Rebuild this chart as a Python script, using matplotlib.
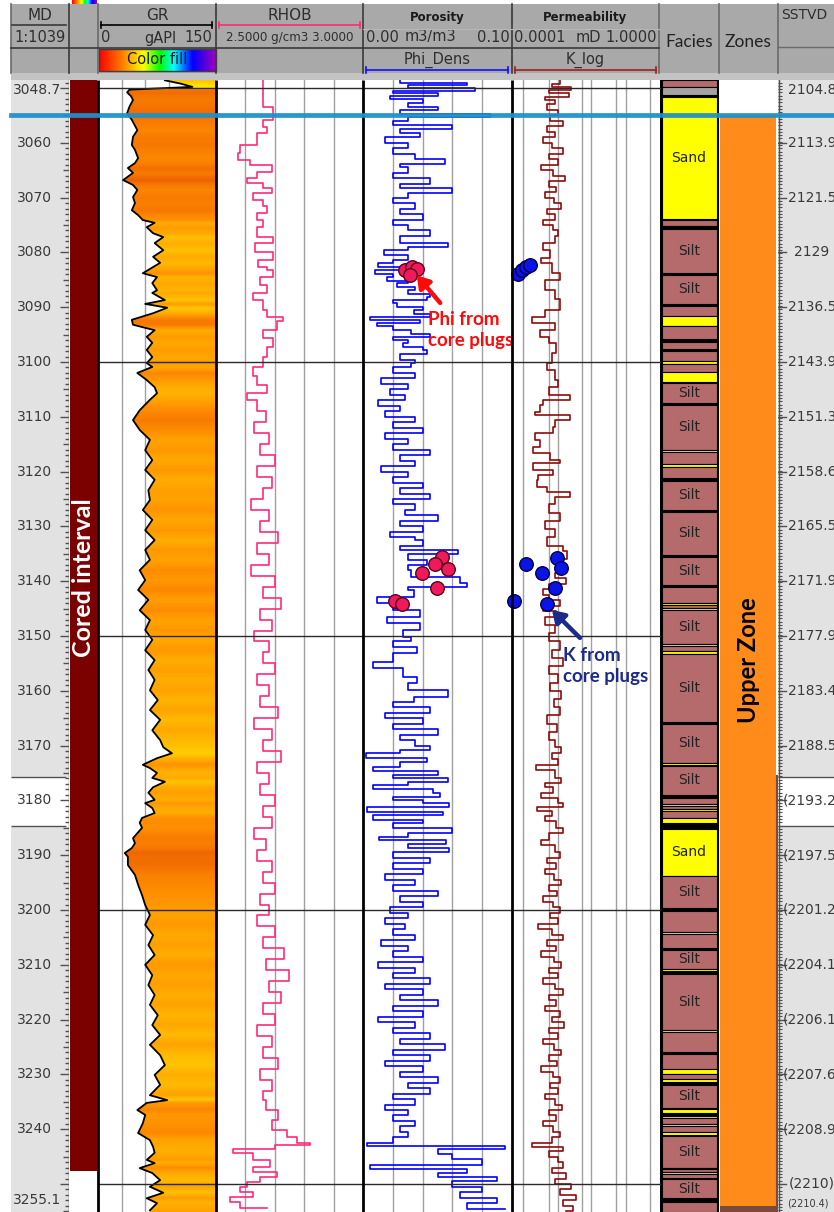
import numpy as np
import matplotlib
matplotlib.use('Agg')
import matplotlib.pyplot as plt
from matplotlib.patches import Rectangle, Polygon
from matplotlib.colors import LinearSegmentedColormap

# ---------------- data ----------------
TOP_DEPTH, BASE_DEPTH = 3048.54, 3255.11
MD_TOP_LABEL, MD_BASE_LABEL = "3048.7", "3255.1"
MD_LABELS = list(range(3060, 3241, 10))
TVD_DEPTHS = list(range(3060, 3251, 10))
TVD_LABELS = ["2113.9", "2121.5", "2129", "2136.5", "2143.9", "2151.3", "2158.6", "2165.5",
              "2171.9", "2177.9", "2183.4", "2188.5", "(2193.2)", "(2197.5)", "(2201.2)",
              "(2204.1)", "(2206.1)", "(2207.6)", "(2208.9)", "(2210)"]
TVD_TOP_LABEL, TVD_BASE_LABEL = "2104.8", "(2210.4)"

GR_DEPTH = [3048.6, 3049.2, 3049.8, 3050.3, 3050.8, 3051.5, 3052.2, 3053.4, 3054.6, 3055.8, 3057.7,
            3058.9, 3060.4, 3061.3, 3062.8, 3063.7, 3064.6, 3065.5, 3066.8, 3067.7, 3068.6, 3069.9,
            3071.0, 3072.3, 3073.2, 3074.1, 3074.6, 3075.4, 3076.5, 3077.2, 3078.3, 3079.6, 3080.8,
            3081.9, 3083.8, 3084.5, 3085.6, 3086.9, 3087.4, 3088.7, 3089.4, 3090.1, 3091.1, 3092.3,
            3093.2, 3094.2, 3095.4, 3096.5, 3097.8, 3099.1, 3100.2, 3100.9, 3102.0, 3103.3, 3104.6,
            3105.7, 3106.9, 3108.8, 3110.6, 3112.4, 3114.2, 3116.1, 3117.9, 3119.7, 3121.5, 3123.4,
            3125.2, 3127.0, 3128.8, 3130.7, 3132.5, 3134.3, 3136.1, 3138.0, 3139.8, 3141.6, 3143.4,
            3145.3, 3147.1, 3148.9, 3150.7, 3152.6, 3154.4, 3156.2, 3158.0, 3159.9, 3161.7, 3163.5,
            3165.3, 3167.2, 3169.0, 3170.3, 3171.4, 3172.3, 3173.5, 3174.1, 3175.0, 3175.9, 3176.6,
            3177.6, 3178.6, 3179.9, 3180.5, 3181.4, 3182.3, 3183.2, 3184.1, 3185.0, 3186.0, 3186.9,
            3187.8, 3188.7, 3189.6, 3190.3, 3191.8, 3193.6, 3195.4, 3197.3, 3199.1, 3200.9, 3202.7,
            3204.6, 3206.4, 3208.2, 3210.0, 3211.9, 3213.7, 3215.5, 3217.3, 3219.2, 3221.0, 3222.8,
            3224.6, 3226.5, 3228.3, 3230.1, 3231.9, 3233.8, 3234.7, 3235.2, 3236.5, 3237.4, 3238.9,
            3240.7, 3242.0, 3243.2, 3244.3, 3245.6, 3246.2, 3247.1, 3248.0, 3249.3, 3250.5, 3251.6,
            3252.6, 3253.5, 3254.8]
GR_VAL = [85, 105, 120, 40, 37, 42, 44.5, 40, 37, 43, 50,
          44.5, 43, 47, 51, 47, 38, 44.5, 32, 44.5, 50, 44.5,
          47, 43, 51, 57, 72, 62, 70, 83, 72, 83, 70,
          79, 57, 75, 69, 75, 69, 85, 60, 88, 70, 43,
          44.5, 72, 62, 69, 62, 69, 62, 69, 50, 62, 72,
          75, 66, 53, 44.5, 53, 66, 60, 69, 60, 72, 64,
          66, 57, 69, 60, 72, 60, 66, 53, 60, 51, 64,
          53, 66, 60, 69, 60, 72, 64, 72, 66, 76, 66,
          79, 69, 79, 83, 94, 75, 57, 66, 75, 69, 85,
          70, 64, 72, 60, 69, 72, 56, 53, 56, 50, 44.5,
          47, 43, 34, 38, 38, 47, 51, 56, 60, 66, 60,
          70, 64, 72, 60, 69, 64, 72, 66, 76, 69, 79,
          66, 79, 85, 72, 79, 66, 88, 62, 50, 60, 57,
          51, 66, 70, 72, 62, 72, 53, 69, 79, 66, 83,
          62, 75, 66]

RHOB_DEPTH = [3048.6, 3052.2, 3053.4, 3055.8, 3057.1, 3058.3, 3060.4, 3061.9, 3063.1, 3064.0, 3065.3,
              3066.4, 3067.4, 3068.3, 3069.2, 3070.4, 3071.6, 3072.9, 3074.1, 3075.4, 3077.2, 3078.3,
              3079.9, 3081.4, 3082.6, 3083.2, 3084.5, 3086.0, 3087.4, 3088.7, 3090.5, 3091.7, 3092.6,
              3094.2, 3095.7, 3097.2, 3099.1, 3100.9, 3102.6, 3104.2, 3105.7,
              3107, 3109, 3111, 3113, 3115, 3117, 3119, 3121, 3123, 3125, 3127, 3129, 3131, 3133,
              3135, 3137, 3139, 3141, 3143, 3145, 3147, 3149, 3151, 3153, 3155, 3157, 3159, 3161,
              3163, 3165, 3167, 3169, 3171, 3173, 3175, 3177, 3179, 3181, 3183, 3185, 3187, 3189,
              3191, 3193, 3195, 3197, 3199, 3201, 3203, 3205, 3207, 3209, 3211, 3213, 3215, 3217,
              3219, 3221, 3223, 3225, 3227, 3229, 3231, 3233, 3234.7, 3236.5, 3238.3, 3240.1,
              3241.4, 3242.5, 3242.9, 3243.6, 3244.3, 3245.6, 3246.9, 3247.8, 3248.7, 3249.6,
              3250.5, 3251.5, 3252.4, 3253.3, 3254.4]
RHOB_VAL = [2.66, 2.66, 2.694, 2.66, 2.673, 2.64, 2.58, 2.575, 2.616, 2.69, 2.64,
            2.605, 2.66, 2.69, 2.627, 2.66, 2.673, 2.64, 2.66, 2.64, 2.694, 2.633,
            2.694, 2.643, 2.673, 2.694, 2.65, 2.673, 2.627, 2.66, 2.673, 2.728, 2.707,
            2.66, 2.694, 2.673, 2.66, 2.627, 2.64, 2.673, 2.605,
            2.64, 2.67, 2.63, 2.68, 2.65, 2.70, 2.64, 2.69, 2.66, 2.62, 2.68, 2.65, 2.71, 2.64,
            2.68, 2.62, 2.70, 2.66, 2.72, 2.65, 2.69, 2.63, 2.68, 2.66, 2.70, 2.64, 2.68, 2.65,
            2.71, 2.63, 2.69, 2.66, 2.72, 2.64, 2.68, 2.65, 2.70, 2.66, 2.69, 2.63, 2.67, 2.64,
            2.69, 2.66, 2.70, 2.65, 2.68, 2.64, 2.70, 2.66, 2.73, 2.67, 2.75, 2.68, 2.72, 2.66,
            2.70, 2.64, 2.69, 2.66, 2.71, 2.65, 2.69, 2.66, 2.67, 2.71, 2.69, 2.74,
            2.775, 2.82, 2.70, 2.558, 2.627, 2.683, 2.627, 2.707, 2.65, 2.605,
            2.58, 2.627, 2.548, 2.58, 2.673]

PHI_DEPTH = [3048.6, 3049.0, 3049.5, 3050.0, 3050.5, 3051.0, 3051.5, 3052.0, 3052.8, 3053.5, 3054.0,
             3054.8, 3055.3, 3056.0, 3056.8, 3057.5, 3058.3, 3059.0, 3060.0, 3061.0, 3062.0, 3063.0,
             3063.8, 3064.5, 3065.5, 3066.5, 3067.5, 3068.3, 3069.2, 3070.0, 3071.0, 3072.0, 3073.0,
             3074.0, 3075.0, 3076.0, 3077.0, 3078.3, 3079.0, 3079.6, 3080.5, 3081.3, 3081.9, 3082.6,
             3083.2, 3084.0, 3084.5, 3085.2, 3085.6, 3086.3, 3086.9, 3087.5, 3088.1, 3088.7, 3089.2,
             3090.0, 3090.5, 3091.2, 3091.8, 3092.4, 3092.9, 3093.5, 3094.2, 3094.8, 3095.4, 3096.0,
             3096.5, 3097.2, 3097.8, 3098.5, 3099.1, 3099.6, 3100.2, 3101, 3102, 3103, 3104, 3105,
             3106, 3107, 3108, 3109, 3110, 3111, 3112, 3113, 3114, 3115, 3116, 3117, 3118, 3119,
             3120, 3121, 3122, 3123, 3124, 3125, 3126, 3127, 3128, 3129, 3130, 3131, 3132, 3132.5,
             3133.5, 3134.3, 3135, 3136.1, 3137, 3138, 3139.2, 3140.3, 3141, 3141.6, 3142.9, 3144,
             3145.3, 3146.5, 3147.6, 3148.9, 3150.2, 3151, 3152, 3153.1, 3154.7, 3155.8, 3157.5,
             3158.6, 3159.9, 3161.1, 3162, 3163, 3164, 3165, 3166, 3167, 3168, 3169, 3170, 3170.8,
             3171.4, 3172.2, 3173, 3173.9, 3174.6, 3175.3, 3175.9, 3176.6, 3177.2, 3177.9, 3178.6,
             3179.3, 3180, 3180.5, 3181.2, 3182.1, 3182.7, 3183.5, 3184.2, 3185, 3186, 3186.7,
             3187.2, 3188, 3188.7, 3189.5, 3190.5, 3191.5, 3192.5, 3193.5, 3194.5, 3195.5, 3196.5,
             3197.5, 3198.5, 3199.5, 3200.5, 3201.5, 3202.5, 3203.5, 3204.5, 3205.5, 3206.5, 3207.5,
             3208.5, 3209.5, 3210.5, 3211.5, 3212.5, 3213.5, 3214.5, 3215.5, 3216.5, 3217.5, 3218.5,
             3219.5, 3220.5, 3221.5, 3222.5, 3223.5, 3224.5, 3225.5, 3226.5, 3227.5, 3228.5, 3229.5,
             3230.5, 3231.5, 3232.5, 3233.5, 3234.5, 3235.5, 3236.5, 3237.5, 3238.5, 3239.5, 3240.5,
             3241.5, 3242.5, 3243, 3243.6, 3244.5, 3245.5, 3246.5, 3247.2, 3248, 3248.8, 3249.5,
             3250.5, 3251.5, 3252.5, 3253.5, 3254.5]
PHI_VAL = [0.025, 0.07, 0.03, 0.075, 0.02, 0.05, 0.018, 0.04, 0.03, 0.05, 0.025,
           0.085, 0.03, 0.02, 0.06, 0.025, 0.038, 0.015, 0.03, 0.02, 0.035, 0.055,
           0.025, 0.03, 0.02, 0.045, 0.025, 0.06, 0.03, 0.02, 0.035, 0.025, 0.04,
           0.02, 0.03, 0.045, 0.025, 0.057, 0.03, 0.014, 0.03, 0.02, 0.01, 0.025,
           0.008, 0.02, 0.016, 0.03, 0.023, 0.035, 0.03, 0.045, 0.043, 0.02, 0.023,
           0.04, 0.034, 0.045, 0.005, 0.038, 0.0095, 0.02, 0.032, 0.045, 0.02, 0.03,
           0.027, 0.04, 0.043, 0.025, 0.025, 0.035, 0.032, 0.02, 0.035, 0.012, 0.03, 0.018,
           0.028, 0.01, 0.025, 0.015, 0.035, 0.02, 0.04, 0.015, 0.03, 0.02, 0.045, 0.025, 0.035, 0.012,
           0.03, 0.02, 0.04, 0.025, 0.045, 0.02, 0.035, 0.028, 0.05, 0.025, 0.04, 0.018, 0.035, 0.04,
           0.025, 0.064, 0.03, 0.043, 0.03, 0.032, 0.065, 0.07, 0.03, 0.034, 0.0095, 0.02,
           0.038, 0.016, 0.038, 0.027, 0.032, 0.02, 0.036, 0.02, 0.007, 0.027, 0.036,
           0.03, 0.057, 0.034, 0.02, 0.045, 0.015, 0.04, 0.02, 0.05, 0.025, 0.035, 0.045, 0.025,
           0.002, 0.043, 0.025, 0.007, 0.05, 0.02, 0.057, 0.03, 0.007, 0.047, 0.052,
           0.02, 0.04, 0.058, 0.003, 0.054, 0.007, 0.04, 0.02, 0.06, 0.03, 0.011,
           0.056, 0.03, 0.058, 0.02, 0.045, 0.02, 0.04, 0.015, 0.035, 0.02, 0.05,
           0.025, 0.04, 0.018, 0.03, 0.015, 0.028, 0.02, 0.035, 0.012, 0.03, 0.02,
           0.04, 0.01, 0.035, 0.02, 0.045, 0.015, 0.04, 0.025, 0.05, 0.02, 0.04,
           0.01, 0.035, 0.02, 0.045, 0.025, 0.055, 0.02, 0.045, 0.015, 0.04, 0.025,
           0.05, 0.03, 0.045, 0.02, 0.035, 0.015, 0.03, 0.02, 0.035, 0.025, 0.03,
           0.02, 0.003, 0.095, 0.05, 0.06, 0.08, 0.005, 0.07, 0.05, 0.09, 0.06,
           0.08, 0.065, 0.09, 0.07, 0.095]

K_DEPTH = [3048.6, 3049.2, 3049.8, 3050.4, 3051, 3051.6, 3052.2, 3053, 3054, 3055, 3056, 3057, 3058,
           3059, 3060, 3061, 3062, 3063, 3064, 3065, 3066, 3067, 3068, 3069, 3070, 3071, 3072, 3073,
           3074, 3075, 3076, 3077, 3078.3, 3079.6, 3081, 3082, 3083.8, 3085, 3086.9, 3088.5, 3090.5,
           3091.8, 3092.9, 3094.2, 3095.4, 3096.5, 3098.3, 3100.2, 3101.5, 3103.3, 3104.6, 3106.0,
           3106.9, 3107.8, 3109.1, 3109.7, 3110.6, 3111.9, 3113.0, 3114.2, 3115.5, 3116.6, 3117.9,
           3118.4, 3119.7, 3120.6, 3121.5, 3122.8, 3123.7, 3124.6, 3126, 3127.5, 3129, 3130.5, 3132,
           3133.5, 3134.5, 3136, 3137.5, 3138.5, 3139.5, 3140.5, 3141.5, 3142.5, 3143.5, 3144.5,
           3145.5, 3146.5, 3148, 3149.5, 3151, 3152.5, 3154, 3155.5, 3157, 3158.5, 3160, 3161.5,
           3163, 3164.5, 3166, 3167.5, 3169, 3170.3, 3171.4, 3172.5, 3173.5, 3174.5, 3175.9, 3176.8,
           3177.6, 3178.6, 3179.5, 3180.5, 3181.2, 3182, 3182.9, 3183.8, 3185, 3186, 3187.2, 3188.2,
           3189.4, 3190.5, 3191.5, 3192.5, 3193.5, 3194.5, 3195.5, 3196.5, 3197.5, 3198.5, 3199.5,
           3200.5, 3201.5, 3202.5, 3203.5, 3204.5, 3205.5, 3206.5, 3207.5, 3208.5, 3209.5, 3210.5,
           3211.5, 3212.5, 3213.5, 3214.5, 3215.5, 3216.5, 3217.5, 3218.5, 3219.5, 3220.5, 3221.5,
           3222.5, 3223.5, 3224.5, 3225.5, 3226.5, 3227.5, 3228.5, 3229.5, 3230.5, 3231.5, 3232.5,
           3233.5, 3234.5, 3235.5, 3236.5, 3237.5, 3238.5, 3239.5, 3240.5, 3241.5, 3242.5, 3243.2,
           3244, 3245, 3246, 3247, 3248, 3249, 3250, 3251, 3252, 3253, 3254, 3255]
K_VAL = [2.0e-3, 1.2e-3, 4.0e-3, 1.0e-3, 3.5e-3, 8e-4, 1.5e-3, 9e-4, 1.8e-3, 1.1e-3, 2.5e-3, 9e-4, 1.5e-3,
         7e-4, 1.2e-3, 2.5e-3, 1.0e-3, 1.8e-3, 6e-4, 1.3e-3, 2.8e-3, 1.0e-3, 1.6e-3, 8e-4, 1.4e-3, 2.2e-3,
         9e-4, 1.5e-3, 7e-4, 1.3e-3, 1.8e-3, 1.5e-3, 7e-4, 1.1e-3, 6e-4, 1.2e-3, 2.0e-3, 7.9e-4, 1.48e-3,
         2.0e-3, 7.9e-4, 3.5e-4, 1.48e-3, 5.8e-4, 1.0e-3, 1.6e-3, 1.2e-3, 9e-4, 1.5e-3, 1.8e-3, 1e-3,
         3.8e-3, 7e-4, 5.8e-4, 4.2e-4, 3.8e-3, 1.48e-3, 1.3e-3, 4.2e-4, 5.8e-4, 3.8e-4, 1.08e-3, 2.0e-3,
         3.8e-4, 1.3e-3, 5e-4, 4.8e-4, 9e-4, 3.8e-3, 1.48e-3, 1.0e-3, 2.0e-3, 8e-4, 1.5e-3, 9e-4,
         2.5e-3, 3.2e-3, 2.0e-3, 2.5e-3, 1.5e-3, 3.0e-3, 1.0e-3, 7e-4, 1.0e-3, 2.0e-3, 7e-4,
         1.6e-3, 8e-4, 1.5e-3, 1.0e-3, 2.0e-3, 1.2e-3, 2.5e-3, 1.0e-3, 1.8e-3, 1.1e-3, 2.2e-3, 1.4e-3,
         2.0e-3, 9e-4, 1.7e-3, 1.0e-3, 1.5e-3, 2.2e-3, 1.2e-3, 1.8e-3, 4.5e-4, 1.5e-3, 2.2e-3, 8e-4,
         1.3e-3, 6e-4, 1.8e-3, 2.4e-3, 4.8e-4, 1.2e-3, 8e-4, 1.6e-3, 2.4e-3, 1.0e-3, 6e-4, 1.5e-3,
         2.0e-3, 9e-4, 1.6e-3, 8e-4, 1.4e-3, 2.2e-3, 1.0e-3, 1.7e-3, 7e-4, 1.3e-3, 2.0e-3,
         1.1e-3, 1.8e-3, 5e-4, 1.2e-3, 2.5e-3, 9e-4, 1.6e-3, 6e-4, 1.4e-3, 2.2e-3, 1.0e-3,
         1.8e-3, 7e-4, 1.5e-3, 2.4e-3, 1.0e-3, 1.6e-3, 8e-4, 2.0e-3, 1.2e-3, 2.6e-3, 1.0e-3,
         1.8e-3, 7e-4, 1.4e-3, 2.2e-3, 1.0e-3, 1.7e-3, 6e-4, 1.3e-3, 2.0e-3, 1.1e-3, 1.8e-3,
         8e-4, 1.5e-3, 2.3e-3, 1.0e-3, 1.6e-3, 7e-4, 1.3e-3, 2.0e-3, 1.2e-3, 3.5e-4, 2.5e-3,
         1.0e-3, 1.8e-3, 2.5e-3, 1.2e-3, 3.0e-3, 1.5e-3, 4.0e-3, 2.0e-3, 5.5e-3, 2.5e-3, 4.5e-3, 3.0e-3]

CORE_PHI_DEPTH = [3083.2, 3082.6, 3083.0, 3084.2, 3135.6, 3136.9, 3137.8, 3138.5, 3141.2, 3143.6, 3144.2]
CORE_PHI_VAL = [0.0282, 0.0329, 0.0362, 0.0315, 0.053, 0.0483, 0.057, 0.0396, 0.0497, 0.0215, 0.0262]
CORE_K_DEPTH = [3083.9, 3083.2, 3082.6, 3082.3, 3136.9, 3135.8, 3137.6, 3138.5, 3141.2, 3143.6, 3144.2]
CORE_K_VAL = [1.5e-4, 1.87e-4, 2.4e-4, 3.1e-4, 2.4e-4, 1.68e-3, 2.15e-3, 6.5e-4, 1.48e-3, 1.13e-4, 8.96e-4]

FACIES = [
    (3048.5, 3049.8, 'silt', 0), (3049.9, 3051.3, 'shale', 0), (3051.6, 3073.9, 'sand', 1),
    (3074.0, 3075.1, 'silt', 0), (3075.1, 3075.4, 'sand', 0), (3075.7, 3083.7, 'silt', 1),
    (3084.1, 3089.4, 'silt', 1), (3089.8, 3091.6, 'silt', 0), (3091.6, 3093.4, 'sand', 0),
    (3093.4, 3095.8, 'silt', 0), (3096.3, 3097.6, 'silt', 0), (3098.0, 3099.9, 'silt', 0),
    (3099.9, 3100.3, 'sand', 0), (3100.3, 3101.8, 'silt', 0), (3101.8, 3103.6, 'sand', 0),
    (3103.9, 3107.4, 'silt', 1), (3107.9, 3116.0, 'silt', 1), (3116.0, 3116.5, 'sand', 0),
    (3116.5, 3118.6, 'silt', 0), (3118.6, 3119.1, 'sand', 0), (3119.1, 3121.1, 'silt', 0),
    (3121.7, 3127.0, 'silt', 1), (3127.3, 3135.2, 'silt', 1), (3135.6, 3140.7, 'silt', 1),
    (3141.1, 3143.9, 'silt', 0), (3143.9, 3144.3, 'sand', 0), (3144.3, 3144.8, 'silt', 0),
    (3144.8, 3145.3, 'sand', 0), (3145.3, 3151.4, 'silt', 1), (3151.4, 3151.8, 'sand', 0),
    (3151.8, 3152.7, 'silt', 0), (3152.7, 3153.2, 'sand', 0), (3153.3, 3165.7, 'silt', 1),
    (3166.1, 3173.1, 'silt', 1), (3173.1, 3173.6, 'sand', 0), (3173.7, 3179.0, 'silt', 1),
    (3179.6, 3180.7, 'silt', 0), (3180.7, 3181.1, 'sand', 0), (3181.1, 3181.5, 'silt', 0),
    (3181.5, 3181.9, 'sand', 0), (3181.9, 3183.3, 'silt', 0), (3183.3, 3184.1, 'sand', 0),
    (3185.2, 3193.8, 'sand', 1), (3193.8, 3199.6, 'silt', 1), (3200.2, 3204.0, 'silt', 0),
    (3204.0, 3204.4, 'sand', 0), (3204.4, 3206.9, 'silt', 0), (3207.3, 3210.7, 'silt', 1),
    (3210.7, 3211.2, 'sand', 0), (3211.6, 3221.9, 'silt', 1), (3221.9, 3222.3, 'sand', 0),
    (3222.3, 3225.9, 'silt', 0), (3226.3, 3229.0, 'silt', 0), (3229.0, 3230.0, 'sand', 0),
    (3230.0, 3230.8, 'silt', 0), (3230.8, 3231.3, 'sand', 0), (3231.9, 3236.1, 'silt', 1),
    (3236.3, 3237.0, 'sand', 0), (3237.6, 3238.0, 'sand', 0), (3238.0, 3239.0, 'silt', 0),
    (3239.0, 3239.4, 'sand', 0), (3239.4, 3240.6, 'silt', 0), (3240.6, 3241.0, 'sand', 0),
    (3241.3, 3247.0, 'silt', 1), (3247.0, 3247.3, 'sand', 0), (3247.3, 3247.8, 'silt', 0),
    (3247.8, 3248.2, 'sand', 0), (3248.2, 3248.9, 'silt', 0), (3249.1, 3252.6, 'silt', 1),
    (3253.3, 3255.2, 'silt', 0)]
FACIES_COLORS = {'silt': '#B56B6B', 'sand': '#FFFF00', 'shale': '#A3A3A3'}
FACIES_NAMES = {'silt': 'Silt', 'sand': 'Sand', 'shale': ''}

ZONE_TOP, ZONE_BASE, ZONE_NAME = 3054.9, 3254.0, "Upper Zone"
CORE_TOP, CORE_BASE = 3048.54, 3247.6
MARKER_DEPTH = 3054.9
WHITE_BAND = (3175.7, 3184.6)
K_GRID = [2e-4, 1e-3, 1.8e-3, 8e-3, 1.4e-2, 6.8e-2, 1.27e-1, 5.7e-1]

# ---------------- figure ----------------
W, H = 834, 1212
fig = plt.figure(figsize=(W / 100, H / 100), dpi=100)
fig.patch.set_facecolor('white')
Y0, Y1 = 80, 1212


def add_ax(x0, x1, y0=Y0, y1=Y1, z=1):
    ax = fig.add_axes([x0 / W, 1 - y1 / H, (x1 - x0) / W, (y1 - y0) / H], zorder=z)
    ax.set_xticks([]); ax.set_yticks([])
    for s in ax.spines.values():
        s.set_visible(False)
    return ax


def depth_ax(ax):
    ax.set_ylim(BASE_DEPTH, TOP_DEPTH)


GRID = '#A0A0A0'
DARK = '#2A2A2A'
LBL = '#3A3A3A'

# MD track
ax_md = add_ax(11, 69)
ax_md.set_facecolor('#E2E2E2'); ax_md.set_xlim(0, 1); depth_ax(ax_md)
ax_md.axhspan(WHITE_BAND[0], WHITE_BAND[1], color='white', zorder=1)
ax_md.hlines(WHITE_BAND, 0, 0.95, color='#505050', lw=1, zorder=2)
for d in np.arange(3049, 3256, 1):
    ln = 0.16 if d % 10 == 0 else (0.11 if d % 5 == 0 else 0.07)
    ax_md.plot([1 - ln, 1], [d, d], color='#505050', lw=1, zorder=3, solid_capstyle='butt')
for d in MD_LABELS:
    ax_md.text(0.41, d, str(d), ha='center', va='center', fontsize=10, color=LBL, zorder=4)
ax_md.text(0.03, TOP_DEPTH + 1.8, MD_TOP_LABEL, ha='left', va='center', fontsize=10, color=LBL)
ax_md.text(0.03, BASE_DEPTH - 2.2, MD_BASE_LABEL, ha='left', va='center', fontsize=10, color=LBL)
ax_md.axvline(1, color='#505050', lw=1)

# Cored interval column
ax_c = add_ax(69, 98)
ax_c.set_xlim(0, 1); depth_ax(ax_c)
ax_c.add_patch(Rectangle((0.03, CORE_TOP), 0.94, CORE_BASE - CORE_TOP, fc='#7B0000', ec='none'))
ax_c.text(0.5, 3139.4, "Cored interval", rotation=90, ha='center', va='center', color='white',
          fontsize=18, fontweight='bold', family='Lato')

# GR track
ax_gr = add_ax(98, 216)
fill_cmap = LinearSegmentedColormap.from_list('grfill', [
    (0, '#C81400'), (25 / 150, '#E85000'), (40 / 150, '#F57300'), (55 / 150, '#FF8F00'),
    (70 / 150, '#FFAA00'), (85 / 150, '#FFC400'), (110 / 150, '#FFE000'), (1, '#FFF200')])
gd = np.array(GR_DEPTH); gv = np.array(GR_VAL)
fine = np.linspace(TOP_DEPTH, BASE_DEPTH, 1400)
img = np.interp(fine, gd, gv)[:, None]
im = ax_gr.imshow(img, aspect='auto', extent=[0, 150, BASE_DEPTH, TOP_DEPTH], cmap=fill_cmap,
                  vmin=0, vmax=150, zorder=2, interpolation='bilinear')
verts = [(150, TOP_DEPTH), (gv[0], TOP_DEPTH)] + list(zip(gv, gd)) + [(gv[-1], BASE_DEPTH), (150, BASE_DEPTH)]
poly = Polygon(verts, closed=True, fc='none', ec='none')
ax_gr.add_patch(poly)
im.set_clip_path(poly)
for g in [30, 60, 90, 120]:
    ax_gr.axvline(g, color=GRID, lw=1, zorder=1)
ax_gr.plot(gv, gd, color='black', lw=1.3, zorder=4)
ax_gr.set_xlim(0, 150); depth_ax(ax_gr)

# RHOB track
ax_rh = add_ax(216, 363)
for g in [2.6, 2.7, 2.8, 2.9]:
    ax_rh.axvline(g, color=GRID, lw=1, zorder=1)
ax_rh.plot(RHOB_VAL, RHOB_DEPTH, color='#FF2A7A', lw=1.2, drawstyle='steps-pre', zorder=3)
ax_rh.set_xlim(2.5, 3.0); depth_ax(ax_rh)

# Porosity track
ax_ph = add_ax(363, 512)
for g in [0.02, 0.04, 0.06, 0.08]:
    ax_ph.axvline(g, color=GRID, lw=1, zorder=1)
ax_ph.plot(PHI_VAL, PHI_DEPTH, color='#0000FF', lw=1.2, drawstyle='steps-pre', zorder=3)
ax_ph.scatter(CORE_PHI_VAL, CORE_PHI_DEPTH, s=95, facecolor='#EE1A5C', edgecolor='#5A0018', lw=1, zorder=5)
ax_ph.set_xlim(0, 0.1); depth_ax(ax_ph)
ax_ph.annotate('', xy=(0.0349, 3083.8), xytext=(0.053, 3089.6),
               arrowprops=dict(arrowstyle='-|>,head_width=0.45,head_length=0.7', color='#FF0A0A', lw=3.2),
               zorder=6)
ax_ph.text(0.0436, 3094.2, "Phi from\ncore plugs", ha='left', va='center', color='#FF0A0A',
           fontsize=13.5, fontweight='bold', family='Lato', linespacing=1.25, zorder=6, clip_on=False)

# Permeability track (transparent background so the porosity note can overlap it)
ax_k = add_ax(512, 659)
ax_k.patch.set_alpha(0)
ax_k.set_xscale('log')
ax_k.set_xticks([]); ax_k.set_xticks([], minor=True)
for g in K_GRID:
    ax_k.axvline(g, color=GRID, lw=1, zorder=1)
ax_k.plot(K_VAL, K_DEPTH, color='#8E0A0A', lw=1.2, drawstyle='steps-pre', zorder=3)
ax_k.scatter(CORE_K_VAL, CORE_K_DEPTH, s=95, facecolor='#0A14E6', edgecolor='#00004A', lw=1, zorder=5,
             clip_on=False)
ax_k.set_xlim(1e-4, 1.0); depth_ax(ax_k)
ax_k.annotate('', xy=(1.08e-3, 3144.9), xytext=(8.0e-3, 3150.7),
              arrowprops=dict(arrowstyle='-|>,head_width=0.45,head_length=0.7', color='#1B2A8C', lw=3.2),
              zorder=6)
ax_k.text(2.44e-3, 3155.5, "K from\ncore plugs", ha='left', va='center', color='#1B2A8C',
          fontsize=13.5, fontweight='bold', family='Lato', linespacing=1.25, zorder=6, clip_on=False)

# Horizontal depth grid lines
for ax in (ax_gr, ax_rh, ax_ph, ax_k):
    for d in [3050, 3100, 3150, 3200, 3250]:
        ax.axhline(d, color=DARK, lw=1, zorder=4.5)

# Facies
ax_f = add_ax(659, 719)
ax_f.set_xlim(0, 60); depth_ax(ax_f)
ax_f.add_patch(Rectangle((1, TOP_DEPTH), 59, BASE_DEPTH - TOP_DEPTH, fc='black', ec='none'))
for top, base, kind, lab in FACIES:
    ax_f.add_patch(Rectangle((3, top), 55, base - top, fc=FACIES_COLORS[kind], ec='black', lw=0.8))
    if lab:
        ax_f.text(30, (top + base) / 2, FACIES_NAMES[kind], ha='center', va='center', fontsize=10,
                  color='#222222')
for d in [3050, 3100, 3150, 3200, 3250]:
    ax_f.plot([0, 1], [d, d], color=DARK, lw=1)

# Zones
ax_z = add_ax(719, 778)
ax_z.set_xlim(0, 59); depth_ax(ax_z)
ax_z.add_patch(Rectangle((1, ZONE_TOP), 56, ZONE_BASE - ZONE_TOP, fc='#FF8C1A', ec='none'))
ax_z.add_patch(Rectangle((1, ZONE_BASE), 56, BASE_DEPTH - ZONE_BASE, fc='#7A4A3A', ec='none'))
ax_z.plot([57.5, 57.5], [3175.5, BASE_DEPTH], color='#7A4A3A', lw=1.5)
ax_z.text(29, 3154.4, ZONE_NAME, rotation=90, ha='center', va='center', fontsize=17,
          fontweight='bold', family='Lato', color='black')

# SSTVD
ax_t = add_ax(778, 834)
ax_t.set_facecolor('#E2E2E2'); ax_t.set_xlim(0, 56); depth_ax(ax_t)
ax_t.axhspan(WHITE_BAND[0], WHITE_BAND[1], color='white', zorder=1)
ax_t.hlines(WHITE_BAND, 0, 56, color='#505050', lw=1, zorder=2)
for d in np.arange(3049, 3255.5, 0.6):
    ax_t.plot([0, 3.5], [d, d], color='#505050', lw=0.8, zorder=3, solid_capstyle='butt')
for d, lab in zip(TVD_DEPTHS, TVD_LABELS):
    ax_t.plot([0, 8], [d, d], color='#505050', lw=1, zorder=3)
    ax_t.text(34, d, lab, ha='center', va='center', fontsize=10, color=LBL, zorder=4, clip_on=True)
ax_t.text(34, TOP_DEPTH + 1.8, TVD_TOP_LABEL, ha='center', va='center', fontsize=10, color=LBL, clip_on=True)
ax_t.text(30, BASE_DEPTH - 1.6, TVD_BASE_LABEL, ha='center', va='center', fontsize=7, color=LBL)
ax_t.axvline(0.5, color='#505050', lw=1)

# overlay for borders and marker line
ax_o = add_ax(0, W, z=10)
ax_o.patch.set_alpha(0)
ax_o.set_xlim(0, W); depth_ax(ax_o)
for x in [98, 216, 363, 512]:
    ax_o.plot([x, x], [TOP_DEPTH, BASE_DEPTH], color='black', lw=2, solid_capstyle='butt')
ax_o.plot([11, W], [MARKER_DEPTH, MARKER_DEPTH], color='#1E90C8', lw=3.4, alpha=0.95)

# ---------------- header ----------------
axh = add_ax(0, W, 0, 80, z=11)
axh.set_xlim(0, W); axh.set_ylim(80, 0)
axh.patch.set_alpha(0)
axh.add_patch(Rectangle((11, 4), W - 11, 69, fc='#A9A9A9', ec='none'))
axh.add_patch(Rectangle((11, 73), W - 11, 7, fc='#C3C3C3', ec='none'))
rainbow = LinearSegmentedColormap.from_list('rb', [
    (0, '#FF0000'), (0.2, '#FF8000'), (0.38, '#FFFF00'), (0.52, '#00FF00'), (0.64, '#00FFFF'),
    (0.8, '#0000FF'), (1, '#A000C0')])
grad = np.linspace(0, 1, 256)[None, :]
axh.imshow(grad, extent=[99, 216, 71, 49], cmap=rainbow, aspect='auto', zorder=2)
axh.imshow(grad, extent=[72, 97, 4, 0], cmap=rainbow, aspect='auto', zorder=2)
axh.add_patch(Rectangle((99, 49), 117, 22, fc='none', ec='#404040', lw=1, zorder=3))
for x in [11, 69, 98, 216, 363, 512, 659, 719, 778]:
    c = '#3A3A3A' if x in (69, 216, 363, 512) else '#6A6A6A'
    axh.plot([x, x], [4, 73], color=c, lw=1.2, zorder=4)
axh.plot([11, 363], [48, 48], color='#3A3A3A', lw=1.2, zorder=4)
axh.plot([363, 659], [48, 48], color='#3A3A3A', lw=1.2, zorder=4)
axh.plot([778, W], [47, 47], color='#6A6A6A', lw=1, zorder=4)
axh.plot([12, 66], [25, 25], color='#3A3A3A', lw=1.2, zorder=4)
axh.plot([363, 659], [29, 29], color='#B8B8B8', lw=0.8, zorder=4)
axh.set_xlim(0, W); axh.set_ylim(80, 0)

HC = '#2E2E2E'
axh.text(40, 15, "MD", ha='center', va='center', fontsize=11, color=HC)
axh.text(40, 37, "1:1039", ha='center', va='center', fontsize=10.5, color=HC)
axh.text(157, 15, "GR", ha='center', va='center', fontsize=11, color=HC)
axh.plot([101, 212], [25, 25], color='black', lw=1.2, zorder=5)
axh.plot([101, 101], [22, 28], color='black', lw=1.2, zorder=5)
axh.plot([212, 212], [22, 28], color='black', lw=1.2, zorder=5)
axh.text(101, 38, "0", ha='left', va='center', fontsize=10.5, color=HC)
axh.text(160, 38, "gAPI", ha='center', va='center', fontsize=10.5, color=HC)
axh.text(212, 38, "150", ha='right', va='center', fontsize=10.5, color=HC)
axh.text(157, 60, "Color fill", ha='center', va='center', fontsize=10.5, color='#1A1A1A', zorder=5)
axh.text(290, 15, "RHOB", ha='center', va='center', fontsize=11, color=HC)
axh.plot([219, 360], [25, 25], color='#FF2A7A', lw=1.2, zorder=5)
axh.plot([219, 219], [22, 28], color='#FF2A7A', lw=1.2, zorder=5)
axh.plot([360, 360], [22, 28], color='#FF2A7A', lw=1.2, zorder=5)
axh.text(290, 37, "2.5000 g/cm3 3.0000", ha='center', va='center', fontsize=8.6, color=HC)
axh.text(437, 18, "Porosity", ha='center', va='center', fontsize=8.5, fontweight='bold', color='#1A1A1A')
axh.text(366, 37, "0.00", ha='left', va='center', fontsize=10.5, color=HC)
axh.text(430, 37, "m3/m3", ha='center', va='center', fontsize=10.5, color=HC)
axh.text(510, 37, "0.10", ha='right', va='center', fontsize=10.5, color=HC)
axh.text(437, 60, "Phi_Dens", ha='center', va='center', fontsize=10.5, color=HC)
axh.plot([366, 508], [70, 70], color='#1010FF', lw=1.2, zorder=5)
axh.plot([366, 366], [67, 73], color='#1010FF', lw=1.2, zorder=5)
axh.plot([508, 508], [67, 73], color='#1010FF', lw=1.2, zorder=5)
axh.text(585, 18, "Permeability", ha='center', va='center', fontsize=8.5, fontweight='bold', color='#1A1A1A')
axh.text(514, 37, "0.0001", ha='left', va='center', fontsize=10.5, color=HC)
axh.text(588, 37, "mD", ha='center', va='center', fontsize=10.5, color=HC)
axh.text(657, 37, "1.0000", ha='right', va='center', fontsize=10.5, color=HC)
axh.text(585, 60, "K_log", ha='center', va='center', fontsize=10.5, color=HC)
axh.plot([515, 656], [70, 70], color='#A02020', lw=1.2, zorder=5)
axh.plot([515, 515], [67, 73], color='#A02020', lw=1.2, zorder=5)
axh.plot([656, 656], [67, 73], color='#A02020', lw=1.2, zorder=5)
axh.text(689, 42, "Facies", ha='center', va='center', fontsize=12.5, family='Lato', color='#222222')
axh.text(748, 42, "Zones", ha='center', va='center', fontsize=12.5, family='Lato', color='#222222')
axh.text(781, 15, "SSTVD", ha='left', va='center', fontsize=10, color=HC)

fig.savefig('out.png', dpi=100, facecolor='white')
